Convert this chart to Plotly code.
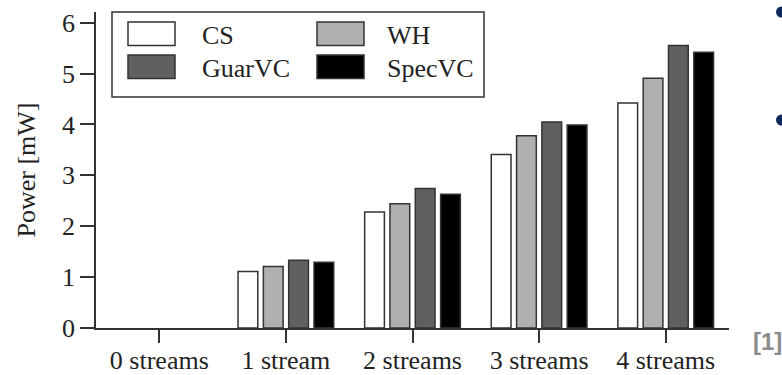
import plotly.graph_objects as go

categories = ["0 streams", "1 stream", "2 streams", "3 streams", "4 streams"]
series_names = ["CS", "WH", "GuarVC", "SpecVC"]
# no measurement is drawn for the 0-stream case
cs = [None, 1.11, 2.28, 3.41, 4.42]
wh = [None, 1.21, 2.44, 3.78, 4.91]
guarvc = [None, 1.33, 2.74, 4.05, 5.55]
specvc = [None, 1.29, 2.63, 3.99, 5.42]
y_ticks = [0, 1, 2, 3, 4, 5, 6]

series_values = [cs, wh, guarvc, specvc]
fills = ["#ffffff", "#b0b0b0", "#606060", "#000000"]

W, H = 782, 375
ML, MR, MT, MB = 96, 53, 12, 47
PW, PH = W - ML - MR, H - MT - MB

SERIF = "'Liberation Serif', 'DejaVu Serif', serif"
FS = 26
INK = "#222222"
EDGE = "#333333"


def px(x):
    return (x - ML) / PW


def py(y):
    return (H - MB - y) / PH


fig = go.Figure()
for name, vals, col in zip(series_names, series_values, fills):
    fig.add_trace(go.Bar(
        x=list(range(len(categories))), y=vals, name=name,
        marker=dict(color=col, line=dict(color=EDGE, width=1.5)),
        showlegend=False,
    ))

shapes = []
annotations = []

# legend frame
shapes.append(dict(type="rect", xref="paper", yref="paper",
                   x0=px(112), x1=px(484), y0=py(97), y1=py(12),
                   line=dict(color=EDGE, width=1.5), fillcolor="white", layer="above"))
# legend entries: (swatch left, text left, row top)
legend_pos = [(128, 200, 22), (317, 385, 22), (128, 200, 55), (317, 385, 55)]
for (sx, tx, ty), name, col in zip(legend_pos, series_names, fills):
    shapes.append(dict(type="rect", xref="paper", yref="paper",
                       x0=px(sx), x1=px(sx + 47), y0=py(ty + 23.5), y1=py(ty),
                       line=dict(color=EDGE, width=1.5), fillcolor=col, layer="above"))
    annotations.append(dict(xref="paper", yref="paper", x=px(tx), y=py(ty + 14),
                            text=name, showarrow=False, xanchor="left", yanchor="middle",
                            font=dict(family=SERIF, size=FS, color=INK)))

# slide bullets at the right edge
for cy in (12, 120):
    shapes.append(dict(type="circle", xref="paper", yref="paper",
                       x0=px(776), x1=px(787), y0=py(cy + 5.5), y1=py(cy - 5.5),
                       line=dict(width=0), fillcolor="#0c2a5c", layer="above"))

# reference marker
annotations.append(dict(xref="paper", yref="paper", x=px(784), y=py(341),
                        text="<b>[1]</b>", showarrow=False, xanchor="right", yanchor="middle",
                        font=dict(family="'Liberation Sans', Arial, sans-serif", size=24, color="#8c8c8c")))

fig.update_layout(
    width=W, height=H,
    margin=dict(l=ML, r=MR, t=MT, b=MB, pad=0),
    paper_bgcolor="white", plot_bgcolor="white",
    barmode="group", bargap=0.2, bargroupgap=0.22,
    shapes=shapes, annotations=annotations,
    font=dict(family=SERIF, size=FS, color=INK),
)
fig.update_xaxes(
    tickmode="array", tickvals=list(range(len(categories))), ticktext=categories,
    range=[-0.5, 4.5], showgrid=False, zeroline=False, automargin=False,
    showline=True, linecolor=EDGE, linewidth=1.5,
    ticks="outside", ticklen=13, tickwidth=1.5, tickcolor=EDGE,
    ticklabelstandoff=-5,
    tickfont=dict(family=SERIF, size=FS, color=INK),
)
fig.update_yaxes(
    range=[0, 6.21], tickvals=y_ticks, showgrid=False, zeroline=False, automargin=False,
    showline=True, linecolor=EDGE, linewidth=1.5,
    ticks="outside", ticklen=14, tickwidth=1.5, tickcolor=EDGE,
    tickfont=dict(family=SERIF, size=FS, color=INK),
    title=dict(text="Power [mW]", font=dict(family=SERIF, size=FS, color=INK), standoff=19),
)

fig.write_html("out.html")
